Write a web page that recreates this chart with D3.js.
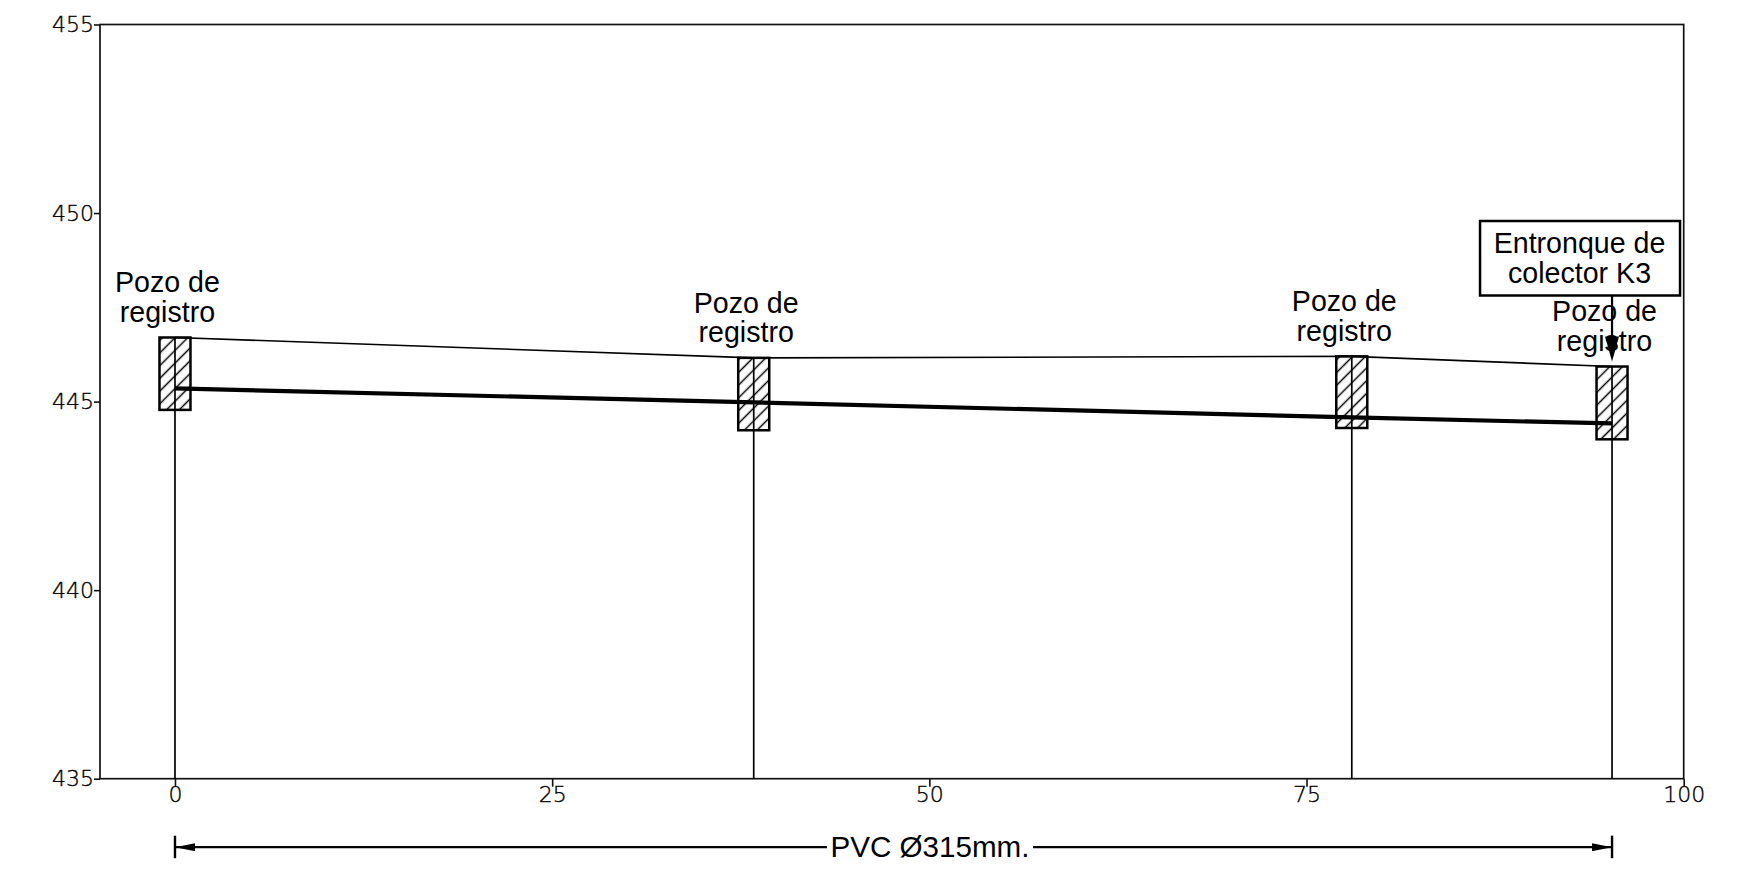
<!DOCTYPE html>
<html>
<head>
<meta charset="utf-8">
<script src="https://cdn.jsdelivr.net/npm/d3@7"></script>
<style>
  body { margin: 0; background: #fff; }
  svg { display: block; }
  .lbl { font-family: "Liberation Sans", Arial, sans-serif; font-size: 28.6px; fill: #000; text-anchor: middle; }
  .axis text { font-family: "DejaVu Sans", sans-serif; font-weight: 200; font-size: 22px; fill: #000; stroke: #000; stroke-width: 0.35; }
  .axis line { stroke: #111; stroke-width: 1.6; }
  .axis path { display: none; }
</style>
</head>
<body>
<div id="chart"></div>
<script>
// values
const xTicks = [0, 25, 50, 75, 100];
const yTicks = [435, 440, 445, 450, 455];
const wellX = [0, 38.36, 78.0, 95.25];
const groundY = [446.7, 446.16, 446.2, 445.93];
const wellBottomY = [444.78, 444.24, 444.3, 444.0];
const pipeY = [445.35, 444.98, 444.58, 444.42];
const wellLabel = ["Pozo de", "registro"];
const boxLabel = ["Entronque de", "colector K3"];
const pipeLabel = "PVC Ø315mm.";

const margin = { top: 24.5, right: 74.3, bottom: 90.3, left: 100 };
const width = 1758 - margin.left - margin.right;
const height = 869 - margin.top - margin.bottom;

const svg = d3.select("#chart").append("svg")
    .attr("width", 1758)
    .attr("height", 869)
  .append("g")
    .attr("transform", "translate(" + margin.left + "," + margin.top + ")");

const defs = d3.select("svg").append("defs");

// hatch for the wells
const hatch = defs.append("pattern")
    .attr("id", "hatch")
    .attr("patternUnits", "userSpaceOnUse")
    .attr("width", 9)
    .attr("height", 9)
    .attr("patternTransform", "rotate(45)");
hatch.append("line")
    .attr("x1", 4.5).attr("y1", 0)
    .attr("x2", 4.5).attr("y2", 9)
    .attr("stroke", "#000")
    .attr("stroke-width", 1.5);

// arrow head
defs.append("marker")
    .attr("id", "head")
    .attr("viewBox", "0 0 20 8")
    .attr("refX", 20)
    .attr("refY", 4)
    .attr("markerUnits", "userSpaceOnUse")
    .attr("markerWidth", 20)
    .attr("markerHeight", 8)
    .attr("orient", "auto-start-reverse")
  .append("path")
    .attr("d", "M0,0L20,4L0,8Z")
    .attr("fill", "#000");

const x = d3.scaleLinear().domain([-4.97, 100]).range([0, width]);
const y = d3.scaleLinear().domain([435, 455]).range([height, 0]);

// Axes
svg.append("g")
    .attr("class", "axis")
    .attr("transform", "translate(0," + height + ")")
    .call(d3.axisBottom(x).tickValues(xTicks).tickSize(8).tickPadding(0));

svg.append("g")
    .attr("class", "axis")
    .call(d3.axisLeft(y).tickValues(yTicks).tickSize(6).tickPadding(0));

svg.append("rect")
    .attr("width", width)
    .attr("height", height)
    .attr("fill", "none")
    .attr("stroke", "#111")
    .attr("stroke-width", 1.7);

// Wells
const wellW = 31;
svg.selectAll(".well")
    .data(wellX)
    .enter().append("rect")
    .attr("class", "well")
    .attr("x", d => x(d) - wellW / 2)
    .attr("y", (d, i) => y(groundY[i]))
    .attr("width", wellW)
    .attr("height", (d, i) => y(wellBottomY[i]) - y(groundY[i]))
    .attr("fill", "url(#hatch)")
    .attr("stroke", "#000")
    .attr("stroke-width", 2.5);

// Vertical reference lines
svg.selectAll(".drop")
    .data(wellX)
    .enter().append("line")
    .attr("class", "drop")
    .attr("x1", d => x(d))
    .attr("x2", d => x(d))
    .attr("y1", y(435))
    .attr("y2", (d, i) => y(groundY[i]))
    .attr("stroke", "#000")
    .attr("stroke-width", 1.7);

// Ground line
svg.append("path")
    .attr("d", d3.line()(wellX.map((d, i) => [x(d), y(groundY[i])])))
    .attr("fill", "none")
    .attr("stroke", "#000")
    .attr("stroke-width", 1.6);

// Pipe
svg.append("path")
    .attr("d", d3.line()(wellX.map((d, i) => [x(d), y(pipeY[i])])))
    .attr("fill", "none")
    .attr("stroke", "#000")
    .attr("stroke-width", 4.2);

// Well labels
wellX.forEach((d, i) => {
    wellLabel.forEach((t, j) => {
        svg.append("text")
            .attr("class", "lbl")
            .attr("x", x(d) - 7.5)
            .attr("y", y(groundY[i]) - 45.3 + j * 29.5)
            .text(t);
    });
});

// Annotation box
const lastX = x(wellX[wellX.length - 1]);
const boxTop = 196.5;
svg.append("rect")
    .attr("x", lastX - 132)
    .attr("y", boxTop)
    .attr("width", 200)
    .attr("height", 74.5)
    .attr("fill", "#fff")
    .attr("stroke", "#000")
    .attr("stroke-width", 2.5);
boxLabel.forEach((t, j) => {
    svg.append("text")
        .attr("class", "lbl")
        .attr("x", lastX - 32.5)
        .attr("y", boxTop + 32 + j * 29.5)
        .text(t);
});
svg.append("line")
    .attr("x1", lastX)
    .attr("x2", lastX)
    .attr("y1", boxTop + 74.5)
    .attr("y2", y(groundY[3]) - 20)
    .attr("stroke", "#000")
    .attr("stroke-width", 2.2);
svg.append("path")
    .attr("d", d3.line()([
        [lastX - 7, y(groundY[3]) - 30],
        [lastX + 7, y(groundY[3]) - 30],
        [lastX, y(groundY[3]) - 5]
    ]))
    .attr("fill", "#000");

// Dimension line under the axis
const dimY = height + 68.5;
svg.append("line")
    .attr("x1", x(wellX[0]))
    .attr("x2", lastX)
    .attr("y1", dimY)
    .attr("y2", dimY)
    .attr("stroke", "#000")
    .attr("stroke-width", 2.2)
    .attr("marker-start", "url(#head)")
    .attr("marker-end", "url(#head)");
[wellX[0], wellX[3]].forEach(d => {
    svg.append("line")
        .attr("x1", x(d))
        .attr("x2", x(d))
        .attr("y1", dimY - 11.5)
        .attr("y2", dimY + 11)
        .attr("stroke", "#000")
        .attr("stroke-width", 2.4);
});
const dimText = svg.append("text")
    .attr("class", "lbl")
    .style("font-size", "29.6px")
    .attr("x", 830)
    .attr("y", dimY + 10)
    .text(pipeLabel);
const box = dimText.node().getBBox();
svg.append("rect")
    .attr("x", box.x - 3.5)
    .attr("y", dimY - 3)
    .attr("width", box.width + 7)
    .attr("height", 6)
    .attr("fill", "#fff");
dimText.raise();
</script>
</body>
</html>
